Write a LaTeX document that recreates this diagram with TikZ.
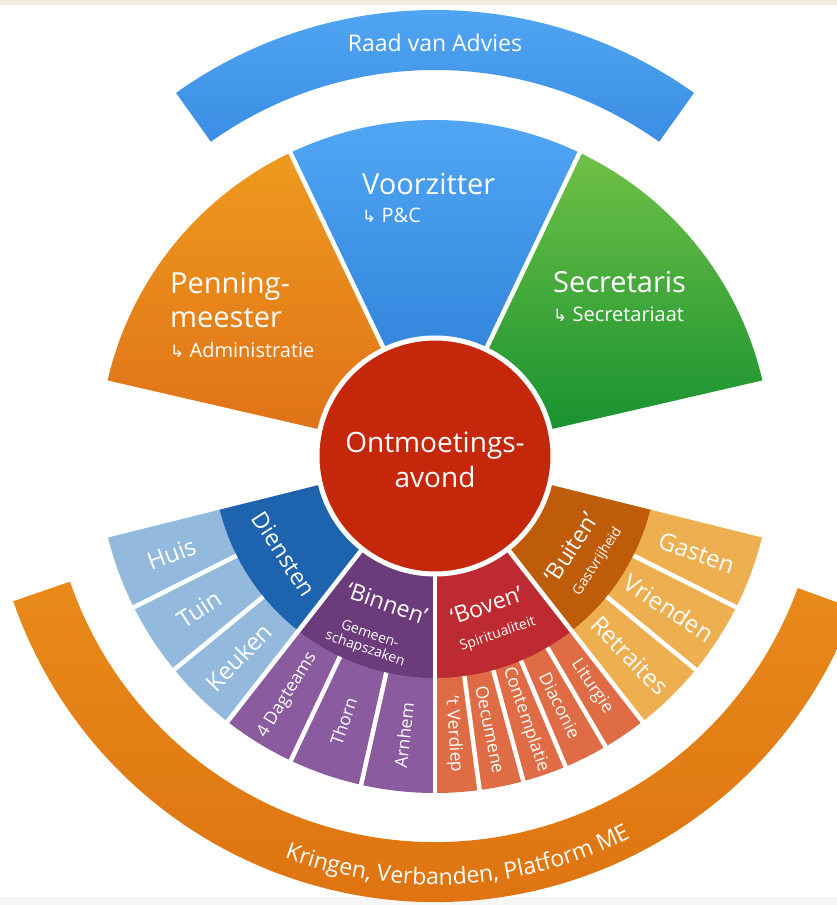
\documentclass[tikz,border=0pt]{standalone}
\usepackage{fontspec}
\setmainfont{Open Sans}
\newfontfamily\arrowfont{DejaVu Sans}
\usetikzlibrary{decorations.text}

\definecolor{stripbeige}{HTML}{EEEBE0}
\definecolor{stripgray}{HTML}{F6F6F6}
\definecolor{raadtop}{HTML}{55AAF5}
\definecolor{raadbot}{HTML}{3A8DE3}
\definecolor{voortop}{HTML}{52A7F5}
\definecolor{voorbot}{HTML}{2678D2}
\definecolor{penntop}{HTML}{EE9A1E}
\definecolor{pennbot}{HTML}{DF6F18}
\definecolor{secrtop}{HTML}{70C046}
\definecolor{secrbot}{HTML}{108E2E}
\definecolor{avondred}{HTML}{C4270A}
\definecolor{dienst}{HTML}{1E63AE}
\definecolor{dienstlight}{HTML}{93BADC}
\definecolor{binnen}{HTML}{6B3B7B}
\definecolor{binnenlight}{HTML}{8A5B9F}
\definecolor{boven}{HTML}{BD2A32}
\definecolor{bovenlight}{HTML}{DF6C44}
\definecolor{buiten}{HTML}{BF5C0A}
\definecolor{buitenlight}{HTML}{EDAF4F}
\definecolor{kringtop}{HTML}{E88A1A}
\definecolor{kringbot}{HTML}{DD700F}

\newcommand{\hook}{{\arrowfont\fontsize{17}{17}\selectfont\char"21B3}\ }

\begin{document}
\begin{tikzpicture}[
        x=1pt, y=1pt,
        sep/.style={white, line width=4.5pt},
        bandtext/.style={text=white, font=\fontsize{23}{26}\selectfont, inner sep=0pt},
        toptext/.style={text=white, font=\fontsize{29}{34}\selectfont, align=left, inner sep=0pt},
        subtext/.style={text=white, font=\fontsize{20}{22}\selectfont, inner sep=0pt},
        centertext/.style={text=white, font=\fontsize{28}{35}\selectfont, align=center, inner sep=0pt},
        grouptext/.style={text=white, font=\fontsize{23}{24}\selectfont, inner sep=0pt},
        smalltext/.style={text=white, font=\fontsize{14}{15}\selectfont, align=center, inner sep=0pt},
        itemtext/.style={text=white, font=\fontsize{24}{25}\selectfont, inner sep=0pt},
        minitext/.style={text=white, font=\fontsize{17.5}{18}\selectfont, inner sep=0pt}
    ]
    \useasboundingbox (-435,-449) rectangle (402,456);
    % Page strips
    \fill[stripbeige] (-435,451) rectangle (402,456);
    \fill[stripgray] (-435,-449) rectangle (402,-441);

    % Raad van Advies
    \shade[top color=raadtop, bottom color=raadbot] (54.5:386) -- (54.5:446)
        arc[start angle=54.5, end angle=125.5, radius=446] -- (125.5:386)
        arc[start angle=125.5, end angle=54.5, radius=386] -- cycle;
    \node[bandtext, anchor=base] (raad) at (0,404) {Raad van Advies};

    % Board
    \shade[top color=penntop, bottom color=pennbot] (0,0) -- (115.5:336)
        arc[start angle=115.5, end angle=167, radius=336] -- cycle;
    \shade[top color=voortop, bottom color=voorbot] (0,0) -- (64.5:336)
        arc[start angle=64.5, end angle=115.5, radius=336] -- cycle;
    \shade[top color=secrtop, bottom color=secrbot] (0,0) -- (13:336)
        arc[start angle=13, end angle=64.5, radius=336] -- cycle;
    \foreach \a in {64.5,115.5}
        \draw[sep] (0,0) -- (\a:345);

    % Groups and their teams
    \foreach \a/\b/\col in {194/232/dienst, 232/270/binnen, 270/308/boven, 308/346/buiten}{
        \fill[\col] (0,0) -- (\a:223) arc[start angle=\a, end angle=\b, radius=223] -- cycle;
        \fill[\col light] (\a:222) -- (\a:337) arc[start angle=\a, end angle=\b, radius=337]
            -- (\b:222) arc[start angle=\b, end angle=\a, radius=222] -- cycle;
    }
    \foreach \a in {206.67,219.33,244.67,257.33,277.6,285.2,292.8,300.4,320.67,333.33}
        \draw[sep] (\a:222) -- (\a:345);
    \foreach \a in {232,270,308}
        \draw[sep] (0,0) -- (\a:345);

    % Centre
    \fill[avondred, draw=white, line width=5pt] (0,0) circle[radius=118];
    \node[centertext, anchor=base] (avond) at (0,-31) {Ontmoetings-\\avond};

    % Board labels
    \node[toptext, anchor=base west] (voorz) at (-73,261) {Voorzitter};
    \node[subtext, anchor=base west] (pc) at ([yshift=-28pt]voorz.base west) {\hook P\&C};
    \node[toptext, anchor=base west] (penning) at (-265,128) {Penning-\\meester};
    \node[subtext, anchor=base west] (admin) at ([yshift=-30pt]penning.base west) {\hook Administratie};
    \node[toptext, anchor=base west] (secr) at (118,163) {Secretaris};
    \node[subtext, anchor=base west] (secrt) at ([yshift=-29pt]secr.base west) {\hook Secretariaat};

    % Group labels
    \node[grouptext, rotate=-57] (diensten) at (213:180) {Diensten};
    \node[grouptext, rotate=-19] (binnenlbl) at (252:155) {‘Binnen’};
    \node[smalltext, rotate=-19] (gemeen) at (250:198) {Gemeen-\\schapszaken};
    \node[grouptext, rotate=19] (bovenlbl) at (289:158) {‘Boven’};
    \node[smalltext, rotate=19] (spirit) at (289.4:189) {Spiritualiteit};
    \node[grouptext, rotate=57] (buitenlbl) at (326:164) {‘Buiten’};
    \node[smalltext, rotate=57] (gastvrij) at (327:194) {Gastvrijheid};

    % Team labels
    \foreach \ang/\lbl/\nm in {200.33/Huis/huis, 213/Tuin/tuin, 225.67/Keuken/keuken}
        \node[itemtext, rotate=\ang-180] (\nm) at (\ang:281) {\lbl};
    \foreach \ang/\lbl/\nm in {238.33/4 Dagteams/dagteams, 251/Thorn/thorn, 263.67/Arnhem/arnhem}
        \node[minitext, rotate=\ang-180] (\nm) at (\ang:281) {\lbl};
    \foreach \ang/\lbl/\nm in {273.8/’t Verdiep/verdiep, 281.4/Oecumene/oecumene, 289/Contemplatie/contempl, 296.6/Diaconie/diaconie, 304.2/Liturgie/liturgie}
        \node[minitext, rotate=\ang-360] (\nm) at (\ang:279) {\lbl};
    \foreach \ang/\lbl/\nm in {314.33/Retraites/retraites, 327/Vrienden/vrienden, 339.67/Gasten/gasten}
        \node[itemtext, rotate=\ang-360] (\nm) at (\ang:279) {\lbl};

    % Kringen
    \shade[top color=kringtop, bottom color=kringbot] (199:386)
        arc[start angle=199, end angle=340, radius=386] -- (340:446)
        arc[start angle=340, end angle=199, radius=446] -- cycle;
    \path[decorate, decoration={text along path, text align=center,
        text={|\fontsize{23}{23}\selectfont\color{white}|Kringen, Verbanden, Platform ME}}]
        (243.3:429) arc[start angle=243.3, end angle=303.3, radius=429];
\end{tikzpicture}
\end{document}
